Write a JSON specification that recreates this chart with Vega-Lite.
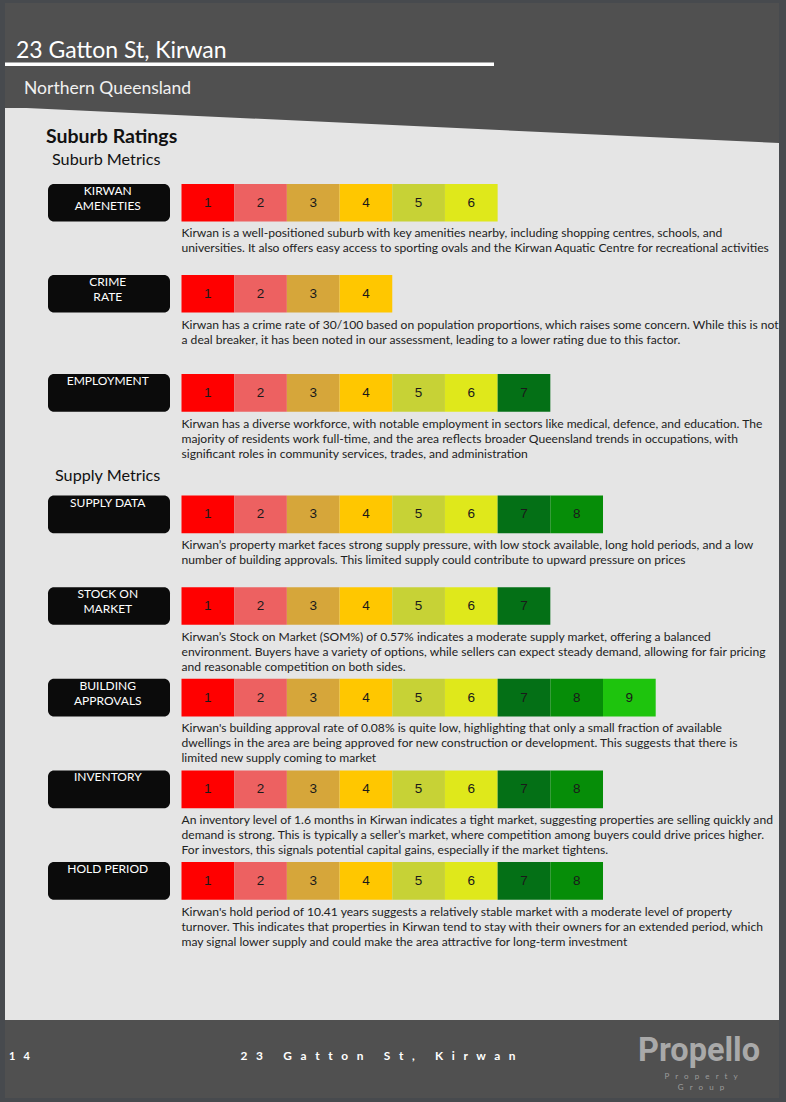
{
"$schema": "https://vega.github.io/schema/vega-lite/v6.json",
"width": 786,
"height": 1102,
"autosize": {"type": "none"},
"padding": 0,
"background": "#474a4e",
"config": {"view": {"stroke": null}},
"datasets": {
"metrics": [
{"metric":"amenities","group":"Suburb Metrics","label":"KIRWAN\nAMENETIES","desc":"Kirwan is a well-positioned suburb with key amenities nearby, including shopping centres, schools, and\nuniversities. It also offers easy access to sporting ovals and the Kirwan Aquatic Centre for recreational activities"},
{"metric":"crime","group":"Suburb Metrics","label":"CRIME\nRATE","desc":"Kirwan has a crime rate of 30/100 based on population proportions, which raises some concern. While this is not\na deal breaker, it has been noted in our assessment, leading to a lower rating due to this factor."},
{"metric":"employment","group":"Suburb Metrics","label":"EMPLOYMENT","desc":"Kirwan has a diverse workforce, with notable employment in sectors like medical, defence, and education. The\nmajority of residents work full-time, and the area reflects broader Queensland trends in occupations, with\nsignificant roles in community services, trades, and administration"},
{"metric":"supply","group":"Supply Metrics","label":"SUPPLY DATA","desc":"Kirwan’s property market faces strong supply pressure, with low stock available, long hold periods, and a low\nnumber of building approvals. This limited supply could contribute to upward pressure on prices"},
{"metric":"stock","group":"Supply Metrics","label":"STOCK ON\nMARKET","desc":"Kirwan’s Stock on Market (SOM%) of 0.57% indicates a moderate supply market, offering a balanced\nenvironment. Buyers have a variety of options, while sellers can expect steady demand, allowing for fair pricing\nand reasonable competition on both sides."},
{"metric":"approvals","group":"Supply Metrics","label":"BUILDING\nAPPROVALS","desc":"Kirwan's building approval rate of 0.08% is quite low, highlighting that only a small fraction of available\ndwellings in the area are being approved for new construction or development. This suggests that there is\nlimited new supply coming to market"},
{"metric":"inventory","group":"Supply Metrics","label":"INVENTORY","desc":"An inventory level of 1.6 months in Kirwan indicates a tight market, suggesting properties are selling quickly and\ndemand is strong. This is typically a seller’s market, where competition among buyers could drive prices higher.\nFor investors, this signals potential capital gains, especially if the market tightens."},
{"metric":"hold","group":"Supply Metrics","label":"HOLD PERIOD","desc":"Kirwan's hold period of 10.41 years suggests a relatively stable market with a moderate level of property\nturnover. This indicates that properties in Kirwan tend to stay with their owners for an extended period, which\nmay signal lower supply and could make the area attractive for long-term investment"}
],
"cells": [
{"metric":"amenities","rating":1},{"metric":"amenities","rating":2},{"metric":"amenities","rating":3},{"metric":"amenities","rating":4},{"metric":"amenities","rating":5},{"metric":"amenities","rating":6},
{"metric":"crime","rating":1},{"metric":"crime","rating":2},{"metric":"crime","rating":3},{"metric":"crime","rating":4},
{"metric":"employment","rating":1},{"metric":"employment","rating":2},{"metric":"employment","rating":3},{"metric":"employment","rating":4},{"metric":"employment","rating":5},{"metric":"employment","rating":6},{"metric":"employment","rating":7},
{"metric":"supply","rating":1},{"metric":"supply","rating":2},{"metric":"supply","rating":3},{"metric":"supply","rating":4},{"metric":"supply","rating":5},{"metric":"supply","rating":6},{"metric":"supply","rating":7},{"metric":"supply","rating":8},
{"metric":"stock","rating":1},{"metric":"stock","rating":2},{"metric":"stock","rating":3},{"metric":"stock","rating":4},{"metric":"stock","rating":5},{"metric":"stock","rating":6},{"metric":"stock","rating":7},
{"metric":"approvals","rating":1},{"metric":"approvals","rating":2},{"metric":"approvals","rating":3},{"metric":"approvals","rating":4},{"metric":"approvals","rating":5},{"metric":"approvals","rating":6},{"metric":"approvals","rating":7},{"metric":"approvals","rating":8},{"metric":"approvals","rating":9},
{"metric":"inventory","rating":1},{"metric":"inventory","rating":2},{"metric":"inventory","rating":3},{"metric":"inventory","rating":4},{"metric":"inventory","rating":5},{"metric":"inventory","rating":6},{"metric":"inventory","rating":7},{"metric":"inventory","rating":8},
{"metric":"hold","rating":1},{"metric":"hold","rating":2},{"metric":"hold","rating":3},{"metric":"hold","rating":4},{"metric":"hold","rating":5},{"metric":"hold","rating":6},{"metric":"hold","rating":7},{"metric":"hold","rating":8}
]
},
"resolve": {"scale": {"x": "independent", "y": "independent", "color": "independent"}},
"layer": [
{"data": {"values": [{"part": "page"}]}, "mark": {"type": "rect", "color": "#e5e5e5"},
 "encoding": {"x": {"field": "part", "type": "nominal", "axis": null, "scale": {"type": "band", "range": [5, 779], "padding": 0}},
  "y": {"field": "part", "type": "nominal", "axis": null, "scale": {"type": "band", "range": [3, 1098], "padding": 0}}}},
{"data": {"values": [{"part": "header"}]}, "mark": {"type": "rect", "color": "#505050"},
 "encoding": {"x": {"field": "part", "type": "nominal", "axis": null, "scale": {"type": "band", "range": [5, 779], "padding": 0}},
  "y": {"field": "part", "type": "nominal", "axis": null, "scale": {"type": "band", "range": [3, 108], "padding": 0}}}},
{"data": {"values": [{"corner": 0}, {"corner": 1}]}, "mark": {"type": "area", "color": "#505050", "orient": "vertical"},
 "encoding": {"x": {"field": "corner", "type": "quantitative", "axis": null, "scale": {"domain": [0, 1], "range": [5, 779], "nice": false, "zero": false}},
  "y": {"field": "corner", "type": "quantitative", "axis": null, "stack": null, "scale": {"domain": [0, 1], "range": [107, 143], "nice": false, "zero": false}},
  "y2": {"datum": 0}}},
{"data": {"values": [{"part": "underline"}]}, "mark": {"type": "rect", "color": "#ffffff"},
 "encoding": {"x": {"field": "part", "type": "nominal", "axis": null, "scale": {"type": "band", "range": [5, 494], "padding": 0}},
  "y": {"field": "part", "type": "nominal", "axis": null, "scale": {"type": "band", "range": [62.5, 66], "padding": 0}}}},
{"data": {"values": [{"part": "footer"}]}, "mark": {"type": "rect", "color": "#505050"},
 "encoding": {"x": {"field": "part", "type": "nominal", "axis": null, "scale": {"type": "band", "range": [5, 779], "padding": 0}},
  "y": {"field": "part", "type": "nominal", "axis": null, "scale": {"type": "band", "range": [1020, 1098], "padding": 0}}}},
{"data": {"values": [{"item": "address", "text": "23 Gatton St, Kirwan"}]},
 "mark": {"type": "text", "font": "Lato", "fontSize": 23, "color": "#ffffff", "align": "left", "baseline": "alphabetic"},
 "encoding": {"x": {"field": "item", "type": "nominal", "axis": null, "bandPosition": 0, "scale": {"type": "band", "range": [16, 500], "padding": 0}},
  "y": {"field": "item", "type": "nominal", "axis": null, "bandPosition": 0, "scale": {"type": "band", "range": [57.5, 70], "padding": 0}},
  "text": {"field": "text"}}},
{"data": {"values": [{"item": "region", "text": "Northern Queensland"}]},
 "mark": {"type": "text", "font": "Lato", "fontSize": 17.5, "color": "#f0f0f0", "align": "left", "baseline": "alphabetic"},
 "encoding": {"x": {"field": "item", "type": "nominal", "axis": null, "bandPosition": 0, "scale": {"type": "band", "range": [24, 500], "padding": 0}},
  "y": {"field": "item", "type": "nominal", "axis": null, "bandPosition": 0, "scale": {"type": "band", "range": [94, 100], "padding": 0}},
  "text": {"field": "text"}}},
{"data": {"values": [{"item": "ratings", "text": "Suburb Ratings"}]},
 "mark": {"type": "text", "font": "Lato", "fontSize": 19.5, "fontWeight": "bold", "color": "#111111", "align": "left", "baseline": "alphabetic"},
 "encoding": {"x": {"field": "item", "type": "nominal", "axis": null, "bandPosition": 0, "scale": {"type": "band", "range": [46, 500], "padding": 0}},
  "y": {"field": "item", "type": "nominal", "axis": null, "bandPosition": 0, "scale": {"type": "band", "range": [143, 150], "padding": 0}},
  "text": {"field": "text"}}},
{"data": {"values": [{"heading": "Suburb Metrics"}, {"heading": "Supply Metrics"}]},
 "mark": {"type": "text", "font": "Lato", "fontSize": 16.2, "color": "#111111", "align": "left", "baseline": "alphabetic"},
 "encoding": {"x": {"field": "heading", "type": "nominal", "axis": null, "scale": {"type": "point", "domain": ["Suburb Metrics", "Supply Metrics"], "range": [52, 55], "padding": 0}},
  "y": {"field": "heading", "type": "nominal", "axis": null, "scale": {"type": "point", "domain": ["Suburb Metrics", "Supply Metrics"], "range": [165, 481], "padding": 0}},
  "text": {"field": "heading"}}},
{"resolve": {"scale": {"x": "independent"}},
 "layer": [
  {"data": {"name": "metrics"}, "transform": [{"filter": {"field": "metric", "oneOf": ["amenities", "crime"]}}],
   "mark": {"type": "rect", "cornerRadius": 6, "color": "#0b0b0b"},
   "encoding": {"x": {"datum": "label", "type": "nominal", "axis": null, "scale": {"type": "band", "domain": ["label"], "range": [48, 170], "padding": 0}},
    "y": {"field": "metric", "type": "nominal", "axis": null, "scale": {"type": "band", "domain": ["amenities", "crime"], "range": [184, 312.5], "paddingInner": 0.588, "paddingOuter": 0}}}},
  {"data": {"name": "metrics"}, "transform": [{"filter": {"field": "metric", "oneOf": ["amenities", "crime"]}}],
   "mark": {"type": "text", "font": "Lato", "fontSize": 12, "color": "#ffffff", "align": "center", "baseline": "top", "dy": 2, "lineBreak": "\n", "lineHeight": 15.3},
   "encoding": {"x": {"datum": "label", "type": "nominal", "axis": null, "bandPosition": 0.49, "scale": {"type": "band", "domain": ["label"], "range": [48, 170], "padding": 0}},
    "y": {"field": "metric", "type": "nominal", "axis": null, "bandPosition": 0, "scale": {"type": "band", "domain": ["amenities", "crime"], "range": [184, 312.5], "paddingInner": 0.588, "paddingOuter": 0}},
    "text": {"field": "label"}}},
  {"data": {"name": "cells"}, "transform": [{"filter": {"field": "metric", "oneOf": ["amenities", "crime"]}}],
   "mark": {"type": "rect"},
   "encoding": {"x": {"field": "rating", "type": "ordinal", "axis": null, "scale": {"type": "band", "domain": [1,2,3,4,5,6,7,8,9], "range": [181.5, 655.7], "padding": 0}},
    "y": {"field": "metric", "type": "nominal", "axis": null, "scale": {"type": "band", "domain": ["amenities", "crime"], "range": [184, 312.5], "paddingInner": 0.588, "paddingOuter": 0}},
    "color": {"field": "rating", "type": "ordinal", "legend": null, "scale": {"domain": [1,2,3,4,5,6,7,8,9], "range": ["#ff0000", "#ed6161", "#d6a63a", "#ffc700", "#c7d236", "#dfe81b", "#047016", "#068d08", "#1ec40d"]}}}},
  {"data": {"name": "cells"}, "transform": [{"filter": {"field": "metric", "oneOf": ["amenities", "crime"]}}],
   "mark": {"type": "text", "font": "Liberation Sans", "fontSize": 13.5, "color": "#1a1a1a", "align": "center", "baseline": "middle"},
   "encoding": {"x": {"field": "rating", "type": "ordinal", "axis": null, "bandPosition": 0.5, "scale": {"type": "band", "domain": [1,2,3,4,5,6,7,8,9], "range": [181.5, 655.7], "padding": 0}},
    "y": {"field": "metric", "type": "nominal", "axis": null, "bandPosition": 0.5, "scale": {"type": "band", "domain": ["amenities", "crime"], "range": [184, 312.5], "paddingInner": 0.588, "paddingOuter": 0}},
    "text": {"field": "rating", "type": "ordinal"}}},
  {"data": {"name": "metrics"}, "transform": [{"filter": {"field": "metric", "oneOf": ["amenities", "crime"]}}],
   "mark": {"type": "text", "font": "Lato", "fontSize": 12.1, "color": "#222222", "align": "left", "baseline": "top", "dy": 6, "lineBreak": "\n", "lineHeight": 15},
   "encoding": {"x": {"datum": 1, "type": "ordinal", "axis": null, "bandPosition": 0, "scale": {"type": "band", "domain": [1,2,3,4,5,6,7,8,9], "range": [181.5, 655.7], "padding": 0}},
    "y": {"field": "metric", "type": "nominal", "axis": null, "bandPosition": 1, "scale": {"type": "band", "domain": ["amenities", "crime"], "range": [184, 312.5], "paddingInner": 0.588, "paddingOuter": 0}},
    "text": {"field": "desc"}}}
 ]},
{"resolve": {"scale": {"x": "independent"}},
 "layer": [
  {"data": {"name": "metrics"}, "transform": [{"filter": {"field": "metric", "oneOf": ["employment"]}}],
   "mark": {"type": "rect", "cornerRadius": 6, "color": "#0b0b0b"},
   "encoding": {"x": {"datum": "label", "type": "nominal", "axis": null, "scale": {"type": "band", "domain": ["label"], "range": [48, 170], "padding": 0}},
    "y": {"field": "metric", "type": "nominal", "axis": null, "scale": {"type": "band", "domain": ["employment"], "range": [374, 411.7], "padding": 0}}}},
  {"data": {"name": "metrics"}, "transform": [{"filter": {"field": "metric", "oneOf": ["employment"]}}],
   "mark": {"type": "text", "font": "Lato", "fontSize": 12, "color": "#ffffff", "align": "center", "baseline": "top", "dy": 2, "lineBreak": "\n", "lineHeight": 15.3},
   "encoding": {"x": {"datum": "label", "type": "nominal", "axis": null, "bandPosition": 0.49, "scale": {"type": "band", "domain": ["label"], "range": [48, 170], "padding": 0}},
    "y": {"field": "metric", "type": "nominal", "axis": null, "bandPosition": 0, "scale": {"type": "band", "domain": ["employment"], "range": [374, 411.7], "padding": 0}},
    "text": {"field": "label"}}},
  {"data": {"name": "cells"}, "transform": [{"filter": {"field": "metric", "oneOf": ["employment"]}}],
   "mark": {"type": "rect"},
   "encoding": {"x": {"field": "rating", "type": "ordinal", "axis": null, "scale": {"type": "band", "domain": [1,2,3,4,5,6,7,8,9], "range": [181.5, 655.7], "padding": 0}},
    "y": {"field": "metric", "type": "nominal", "axis": null, "scale": {"type": "band", "domain": ["employment"], "range": [374, 411.7], "padding": 0}},
    "color": {"field": "rating", "type": "ordinal", "legend": null, "scale": {"domain": [1,2,3,4,5,6,7,8,9], "range": ["#ff0000", "#ed6161", "#d6a63a", "#ffc700", "#c7d236", "#dfe81b", "#047016", "#068d08", "#1ec40d"]}}}},
  {"data": {"name": "cells"}, "transform": [{"filter": {"field": "metric", "oneOf": ["employment"]}}],
   "mark": {"type": "text", "font": "Liberation Sans", "fontSize": 13.5, "color": "#1a1a1a", "align": "center", "baseline": "middle"},
   "encoding": {"x": {"field": "rating", "type": "ordinal", "axis": null, "bandPosition": 0.5, "scale": {"type": "band", "domain": [1,2,3,4,5,6,7,8,9], "range": [181.5, 655.7], "padding": 0}},
    "y": {"field": "metric", "type": "nominal", "axis": null, "bandPosition": 0.5, "scale": {"type": "band", "domain": ["employment"], "range": [374, 411.7], "padding": 0}},
    "text": {"field": "rating", "type": "ordinal"}}},
  {"data": {"name": "metrics"}, "transform": [{"filter": {"field": "metric", "oneOf": ["employment"]}}],
   "mark": {"type": "text", "font": "Lato", "fontSize": 12.1, "color": "#222222", "align": "left", "baseline": "top", "dy": 6, "lineBreak": "\n", "lineHeight": 15},
   "encoding": {"x": {"datum": 1, "type": "ordinal", "axis": null, "bandPosition": 0, "scale": {"type": "band", "domain": [1,2,3,4,5,6,7,8,9], "range": [181.5, 655.7], "padding": 0}},
    "y": {"field": "metric", "type": "nominal", "axis": null, "bandPosition": 1, "scale": {"type": "band", "domain": ["employment"], "range": [374, 411.7], "padding": 0}},
    "text": {"field": "desc"}}}
 ]},
{"resolve": {"scale": {"x": "independent"}},
 "layer": [
  {"data": {"name": "metrics"}, "transform": [{"filter": {"field": "group", "equal": "Supply Metrics"}}],
   "mark": {"type": "rect", "cornerRadius": 6, "color": "#0b0b0b"},
   "encoding": {"x": {"datum": "label", "type": "nominal", "axis": null, "scale": {"type": "band", "domain": ["label"], "range": [48, 170], "padding": 0}},
    "y": {"field": "metric", "type": "nominal", "axis": null, "scale": {"type": "band", "domain": ["supply", "stock", "approvals", "inventory", "hold"], "range": [495.5, 899.8], "paddingInner": 0.5887, "paddingOuter": 0}}}},
  {"data": {"name": "metrics"}, "transform": [{"filter": {"field": "group", "equal": "Supply Metrics"}}],
   "mark": {"type": "text", "font": "Lato", "fontSize": 12, "color": "#ffffff", "align": "center", "baseline": "top", "dy": 2, "lineBreak": "\n", "lineHeight": 15.3},
   "encoding": {"x": {"datum": "label", "type": "nominal", "axis": null, "bandPosition": 0.49, "scale": {"type": "band", "domain": ["label"], "range": [48, 170], "padding": 0}},
    "y": {"field": "metric", "type": "nominal", "axis": null, "bandPosition": 0, "scale": {"type": "band", "domain": ["supply", "stock", "approvals", "inventory", "hold"], "range": [495.5, 899.8], "paddingInner": 0.5887, "paddingOuter": 0}},
    "text": {"field": "label"}}},
  {"data": {"name": "cells"}, "transform": [{"filter": {"field": "metric", "oneOf": ["supply", "stock", "approvals", "inventory", "hold"]}}],
   "mark": {"type": "rect"},
   "encoding": {"x": {"field": "rating", "type": "ordinal", "axis": null, "scale": {"type": "band", "domain": [1,2,3,4,5,6,7,8,9], "range": [181.5, 655.7], "padding": 0}},
    "y": {"field": "metric", "type": "nominal", "axis": null, "scale": {"type": "band", "domain": ["supply", "stock", "approvals", "inventory", "hold"], "range": [495.5, 899.8], "paddingInner": 0.5887, "paddingOuter": 0}},
    "color": {"field": "rating", "type": "ordinal", "legend": null, "scale": {"domain": [1,2,3,4,5,6,7,8,9], "range": ["#ff0000", "#ed6161", "#d6a63a", "#ffc700", "#c7d236", "#dfe81b", "#047016", "#068d08", "#1ec40d"]}}}},
  {"data": {"name": "cells"}, "transform": [{"filter": {"field": "metric", "oneOf": ["supply", "stock", "approvals", "inventory", "hold"]}}],
   "mark": {"type": "text", "font": "Liberation Sans", "fontSize": 13.5, "color": "#1a1a1a", "align": "center", "baseline": "middle"},
   "encoding": {"x": {"field": "rating", "type": "ordinal", "axis": null, "bandPosition": 0.5, "scale": {"type": "band", "domain": [1,2,3,4,5,6,7,8,9], "range": [181.5, 655.7], "padding": 0}},
    "y": {"field": "metric", "type": "nominal", "axis": null, "bandPosition": 0.5, "scale": {"type": "band", "domain": ["supply", "stock", "approvals", "inventory", "hold"], "range": [495.5, 899.8], "paddingInner": 0.5887, "paddingOuter": 0}},
    "text": {"field": "rating", "type": "ordinal"}}},
  {"data": {"name": "metrics"}, "transform": [{"filter": {"field": "group", "equal": "Supply Metrics"}}],
   "mark": {"type": "text", "font": "Lato", "fontSize": 12.1, "color": "#222222", "align": "left", "baseline": "top", "dy": 6, "lineBreak": "\n", "lineHeight": 15},
   "encoding": {"x": {"datum": 1, "type": "ordinal", "axis": null, "bandPosition": 0, "scale": {"type": "band", "domain": [1,2,3,4,5,6,7,8,9], "range": [181.5, 655.7], "padding": 0}},
    "y": {"field": "metric", "type": "nominal", "axis": null, "bandPosition": 1, "scale": {"type": "band", "domain": ["supply", "stock", "approvals", "inventory", "hold"], "range": [495.5, 899.8], "paddingInner": 0.5887, "paddingOuter": 0}},
    "text": {"field": "desc"}}}
 ]},
{"data": {"values": [{"item": "page", "text": "1\u00a0\u00a0\u00a04"}]},
 "mark": {"type": "text", "font": "Lato", "fontSize": 11, "fontWeight": "bold", "color": "#ffffff", "align": "left", "baseline": "alphabetic"},
 "encoding": {"x": {"field": "item", "type": "nominal", "axis": null, "bandPosition": 0, "scale": {"type": "band", "range": [9, 100], "padding": 0}},
  "y": {"field": "item", "type": "nominal", "axis": null, "bandPosition": 0, "scale": {"type": "band", "range": [1059.5, 1065], "padding": 0}},
  "text": {"field": "text"}}},
{"data": {"values": [{"item": "address", "text": "2\u00a0\u00a0\u00a03\u00a0\u00a0\u00a0\u00a0\u00a0\u00a0\u00a0G\u00a0\u00a0\u00a0a\u00a0\u00a0\u00a0t\u00a0\u00a0\u00a0t\u00a0\u00a0\u00a0o\u00a0\u00a0\u00a0n\u00a0\u00a0\u00a0\u00a0\u00a0\u00a0\u00a0S\u00a0\u00a0\u00a0t\u00a0\u00a0\u00a0,\u00a0\u00a0\u00a0\u00a0\u00a0\u00a0\u00a0K\u00a0\u00a0\u00a0i\u00a0\u00a0\u00a0r\u00a0\u00a0\u00a0w\u00a0\u00a0\u00a0a\u00a0\u00a0\u00a0n"}]},
 "mark": {"type": "text", "font": "Lato", "fontSize": 11.9, "fontWeight": "bold", "color": "#ffffff", "align": "center", "baseline": "alphabetic"},
 "encoding": {"x": {"field": "item", "type": "nominal", "axis": null, "bandPosition": 0.5, "scale": {"type": "band", "range": [239, 517], "padding": 0}},
  "y": {"field": "item", "type": "nominal", "axis": null, "bandPosition": 0, "scale": {"type": "band", "range": [1059.5, 1065], "padding": 0}},
  "text": {"field": "text"}}},
{"data": {"values": [{"item": "brand", "text": "Propello"}]},
 "mark": {"type": "text", "font": "Roboto", "fontSize": 32.5, "fontWeight": "bold", "color": "#a9a9a9", "align": "center", "baseline": "alphabetic"},
 "encoding": {"x": {"field": "item", "type": "nominal", "axis": null, "bandPosition": 0.5, "scale": {"type": "band", "range": [639, 759], "padding": 0}},
  "y": {"field": "item", "type": "nominal", "axis": null, "bandPosition": 0, "scale": {"type": "band", "range": [1061, 1065], "padding": 0}},
  "text": {"field": "text"}}},
{"data": {"values": [{"item": "line1", "text": "P\u00a0\u00a0\u00a0r\u00a0\u00a0\u00a0o\u00a0\u00a0\u00a0p\u00a0\u00a0\u00a0e\u00a0\u00a0\u00a0r\u00a0\u00a0\u00a0t\u00a0\u00a0\u00a0y"}, {"item": "line2", "text": "G\u00a0\u00a0\u00a0r\u00a0\u00a0\u00a0o\u00a0\u00a0\u00a0u\u00a0\u00a0\u00a0p"}]},
 "mark": {"type": "text", "font": "Lato", "fontSize": 8, "color": "#9c9c9c", "align": "center", "baseline": "middle"},
 "encoding": {"x": {"field": "item", "type": "nominal", "axis": null, "scale": {"type": "point", "domain": ["line1", "line2"], "range": [701, 701], "padding": 0}},
  "y": {"field": "item", "type": "nominal", "axis": null, "scale": {"type": "point", "domain": ["line1", "line2"], "range": [1076.7, 1088.3], "padding": 0}},
  "text": {"field": "text"}}}
]
}
